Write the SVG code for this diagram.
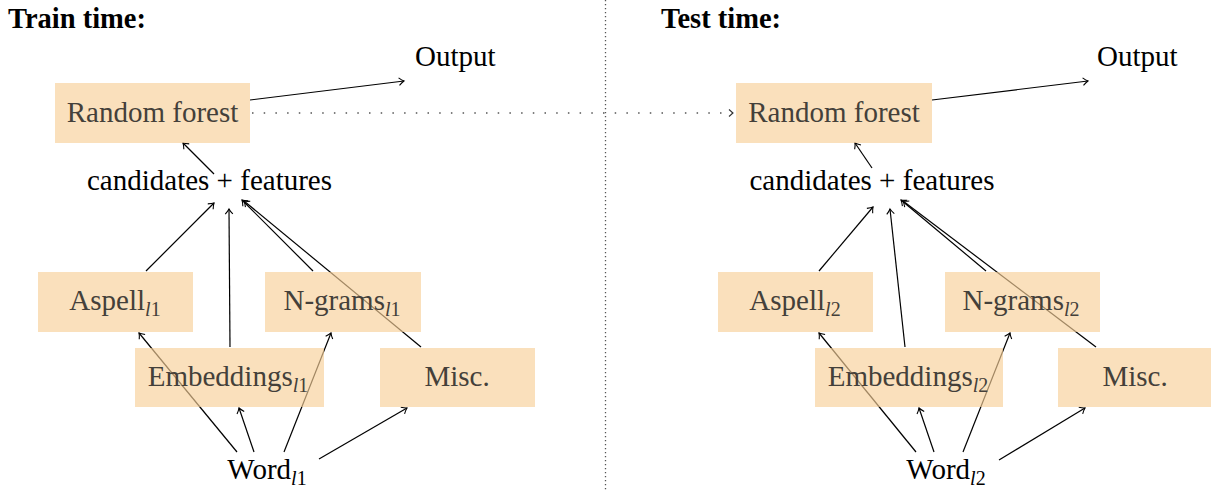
<svg xmlns="http://www.w3.org/2000/svg" width="1211" height="490" viewBox="0 0 1211 490" font-family="Liberation Serif, serif">
<style>
  text{font-family:'Liberation Serif',serif;font-size:29px;fill:#000}
  .title{font-weight:bold;font-size:28.5px}
  .box{fill:#F8D098;fill-opacity:0.65}
  .bt{fill:#44403a;text-anchor:middle}
  .pt{text-anchor:middle}
  .sub{font-size:20px}
  .it{font-style:italic}
  .edge{stroke:#000;stroke-width:1.2;fill:none;marker-end:url(#arr)}
  .dot{stroke:#555;stroke-width:1.3;fill:none}
</style>
<defs>
  <marker id="arr" viewBox="-6 -5 8 10" markerWidth="8" markerHeight="10" refX="0" refY="0" orient="auto" markerUnits="userSpaceOnUse">
    <path d="M-5,-3.8 Q-2,-1 0,0 Q-2,1 -5,3.8" stroke="#000" stroke-width="1.1" fill="none"/>
  </marker>
  <marker id="arrd" viewBox="-6 -5 8 10" markerWidth="8" markerHeight="10" refX="0" refY="0" orient="auto" markerUnits="userSpaceOnUse">
    <path d="M-4,-3.5 L0,0 L-4,3.5" stroke="#333" stroke-width="1.1" fill="none"/>
  </marker>
</defs>
<rect width="1211" height="490" fill="#fff"/>
<text class="title" x="8" y="28">Train time:</text>
<text class="title" x="661" y="28">Test time:</text>
<g id="connectors">
  <line class="dot" x1="605.5" y1="0" x2="605.5" y2="490" stroke-dasharray="1.3 2.7"/>
  <line class="dot" x1="252" y1="113" x2="733" y2="113" stroke-dasharray="1.5 10.2" marker-end="url(#arrd)"/>
  <line class="edge" x1="250" y1="100" x2="404" y2="81"/>
  <line class="edge" x1="214" y1="174" x2="183" y2="143"/>
  <line class="edge" x1="146" y1="271" x2="214" y2="203"/>
  <line class="edge" x1="230" y1="347" x2="229" y2="209"/>
  <line class="edge" x1="313" y1="271" x2="242" y2="200"/>
  <line class="edge" x1="421" y1="347" x2="244" y2="201"/>
  <line class="edge" x1="237" y1="452" x2="139" y2="333"/>
  <line class="edge" x1="254" y1="452" x2="239" y2="408"/>
  <line class="edge" x1="284" y1="452" x2="331" y2="333"/>
  <line class="edge" x1="319" y1="459" x2="407" y2="408"/>
  <line class="edge" x1="932" y1="100" x2="1088" y2="81"/>
  <line class="edge" x1="872" y1="168" x2="855" y2="143"/>
  <line class="edge" x1="819" y1="271" x2="873" y2="207"/>
  <line class="edge" x1="905" y1="347" x2="890" y2="209"/>
  <line class="edge" x1="986" y1="271" x2="901" y2="200"/>
  <line class="edge" x1="1096" y1="347" x2="903" y2="201"/>
  <line class="edge" x1="916" y1="452" x2="819" y2="333"/>
  <line class="edge" x1="934" y1="452" x2="919" y2="408"/>
  <line class="edge" x1="963" y1="452" x2="1010" y2="333"/>
  <line class="edge" x1="999" y1="460" x2="1085" y2="408"/>
</g>
<g id="output1"><text x="415" y="66">Output</text></g>
<g id="rf1"><rect class="box" x="55" y="83" width="195" height="60"/><text class="bt" x="152.5" y="122">Random forest</text></g>
<g id="cand1"><text class="pt" x="209.5" y="190">candidates + features</text></g>
<g id="aspell1"><rect class="box" x="38" y="272" width="155" height="60"/><text class="bt" x="115" y="310">Aspell<tspan class="sub it" dy="6">l</tspan><tspan class="sub">1</tspan></text></g>
<g id="ngrams1"><rect class="box" x="265" y="272" width="156" height="60"/><text class="bt" x="342" y="310">N-grams<tspan class="sub it" dy="6">l</tspan><tspan class="sub">1</tspan></text></g>
<g id="emb1"><rect class="box" x="135" y="348" width="189" height="59"/><text class="bt" x="228" y="386">Embeddings<tspan class="sub it" dy="6">l</tspan><tspan class="sub">1</tspan></text></g>
<g id="misc1"><rect class="box" x="380" y="348" width="155" height="59"/><text class="bt" x="457" y="386">Misc.</text></g>
<g id="word1"><text class="pt" x="267" y="479">Word<tspan class="sub it" dy="6">l</tspan><tspan class="sub">1</tspan></text></g>
<g id="output2"><text x="1097" y="66">Output</text></g>
<g id="rf2"><rect class="box" x="736" y="83" width="196" height="60"/><text class="bt" x="834" y="122">Random forest</text></g>
<g id="cand2"><text class="pt" x="872" y="190">candidates + features</text></g>
<g id="aspell2"><rect class="box" x="718" y="272" width="155" height="60"/><text class="bt" x="795" y="310">Aspell<tspan class="sub it" dy="6">l</tspan><tspan class="sub">2</tspan></text></g>
<g id="ngrams2"><rect class="box" x="945" y="272" width="155" height="60"/><text class="bt" x="1021" y="310">N-grams<tspan class="sub it" dy="6">l</tspan><tspan class="sub">2</tspan></text></g>
<g id="emb2"><rect class="box" x="815" y="348" width="188" height="59"/><text class="bt" x="908" y="386">Embeddings<tspan class="sub it" dy="6">l</tspan><tspan class="sub">2</tspan></text></g>
<g id="misc2"><rect class="box" x="1058" y="348" width="153" height="59"/><text class="bt" x="1135" y="386">Misc.</text></g>
<g id="word2"><text class="pt" x="946" y="479">Word<tspan class="sub it" dy="6">l</tspan><tspan class="sub">2</tspan></text></g>
</svg>
